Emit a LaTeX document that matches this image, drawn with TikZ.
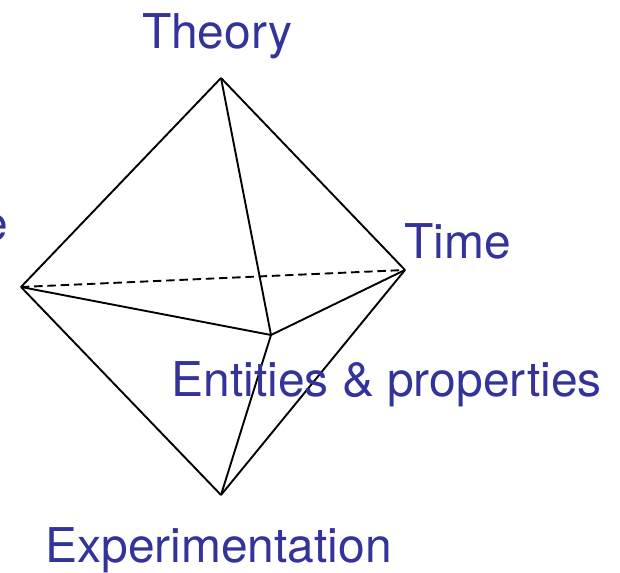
\documentclass[tikz,border=0pt]{standalone}
\usepackage{fontspec}
\setmainfont{TeX Gyre Heros}
\usetikzlibrary{positioning}
\definecolor{labelblue}{RGB}{51,51,153}
\tikzset{
	bluetext/.style={font=\fontsize{34.1}{40}\selectfont\color{labelblue},inner sep=0pt},
	edgeline/.style={draw=black,line width=1.35pt,line join=round}
}
\begin{document}
\begin{tikzpicture}
      \useasboundingbox (0,0) rectangle (15.5,14.325);
      \clip (0,0) rectangle (15.5,14.325);
      \coordinate (top) at (5.525,12.375);
      \coordinate (left) at (0.525,7.15);
      \coordinate (right) at (10.125,7.575);
      \coordinate (mid) at (6.775,5.95);
      \coordinate (bottom) at (5.525,1.95);
      \foreach \a/\b in {top/left, top/right, top/mid, left/mid, right/mid, left/bottom, right/bottom, mid/bottom}
        \draw[edgeline] (\a) -- (\b);
      \draw[edgeline,dashed,dash pattern=on 6pt off 3.4pt] (left) -- (right);
      \node[bluetext,anchor=base] (theory) at (5.43,13.1) {Theory};
      \node[bluetext,anchor=base west] (time) at (10.1,7.87) {Time};
      \node[bluetext,anchor=base west] (entities) at (4.28,4.4) {Entities \& properties};
      \node[bluetext,anchor=base west] (experiment) at (1.13,0.25) {Experimentation};
      \node[bluetext,anchor=base east] (space) at (0.2,8.3) {Space};
    \end{tikzpicture}
\end{document}
